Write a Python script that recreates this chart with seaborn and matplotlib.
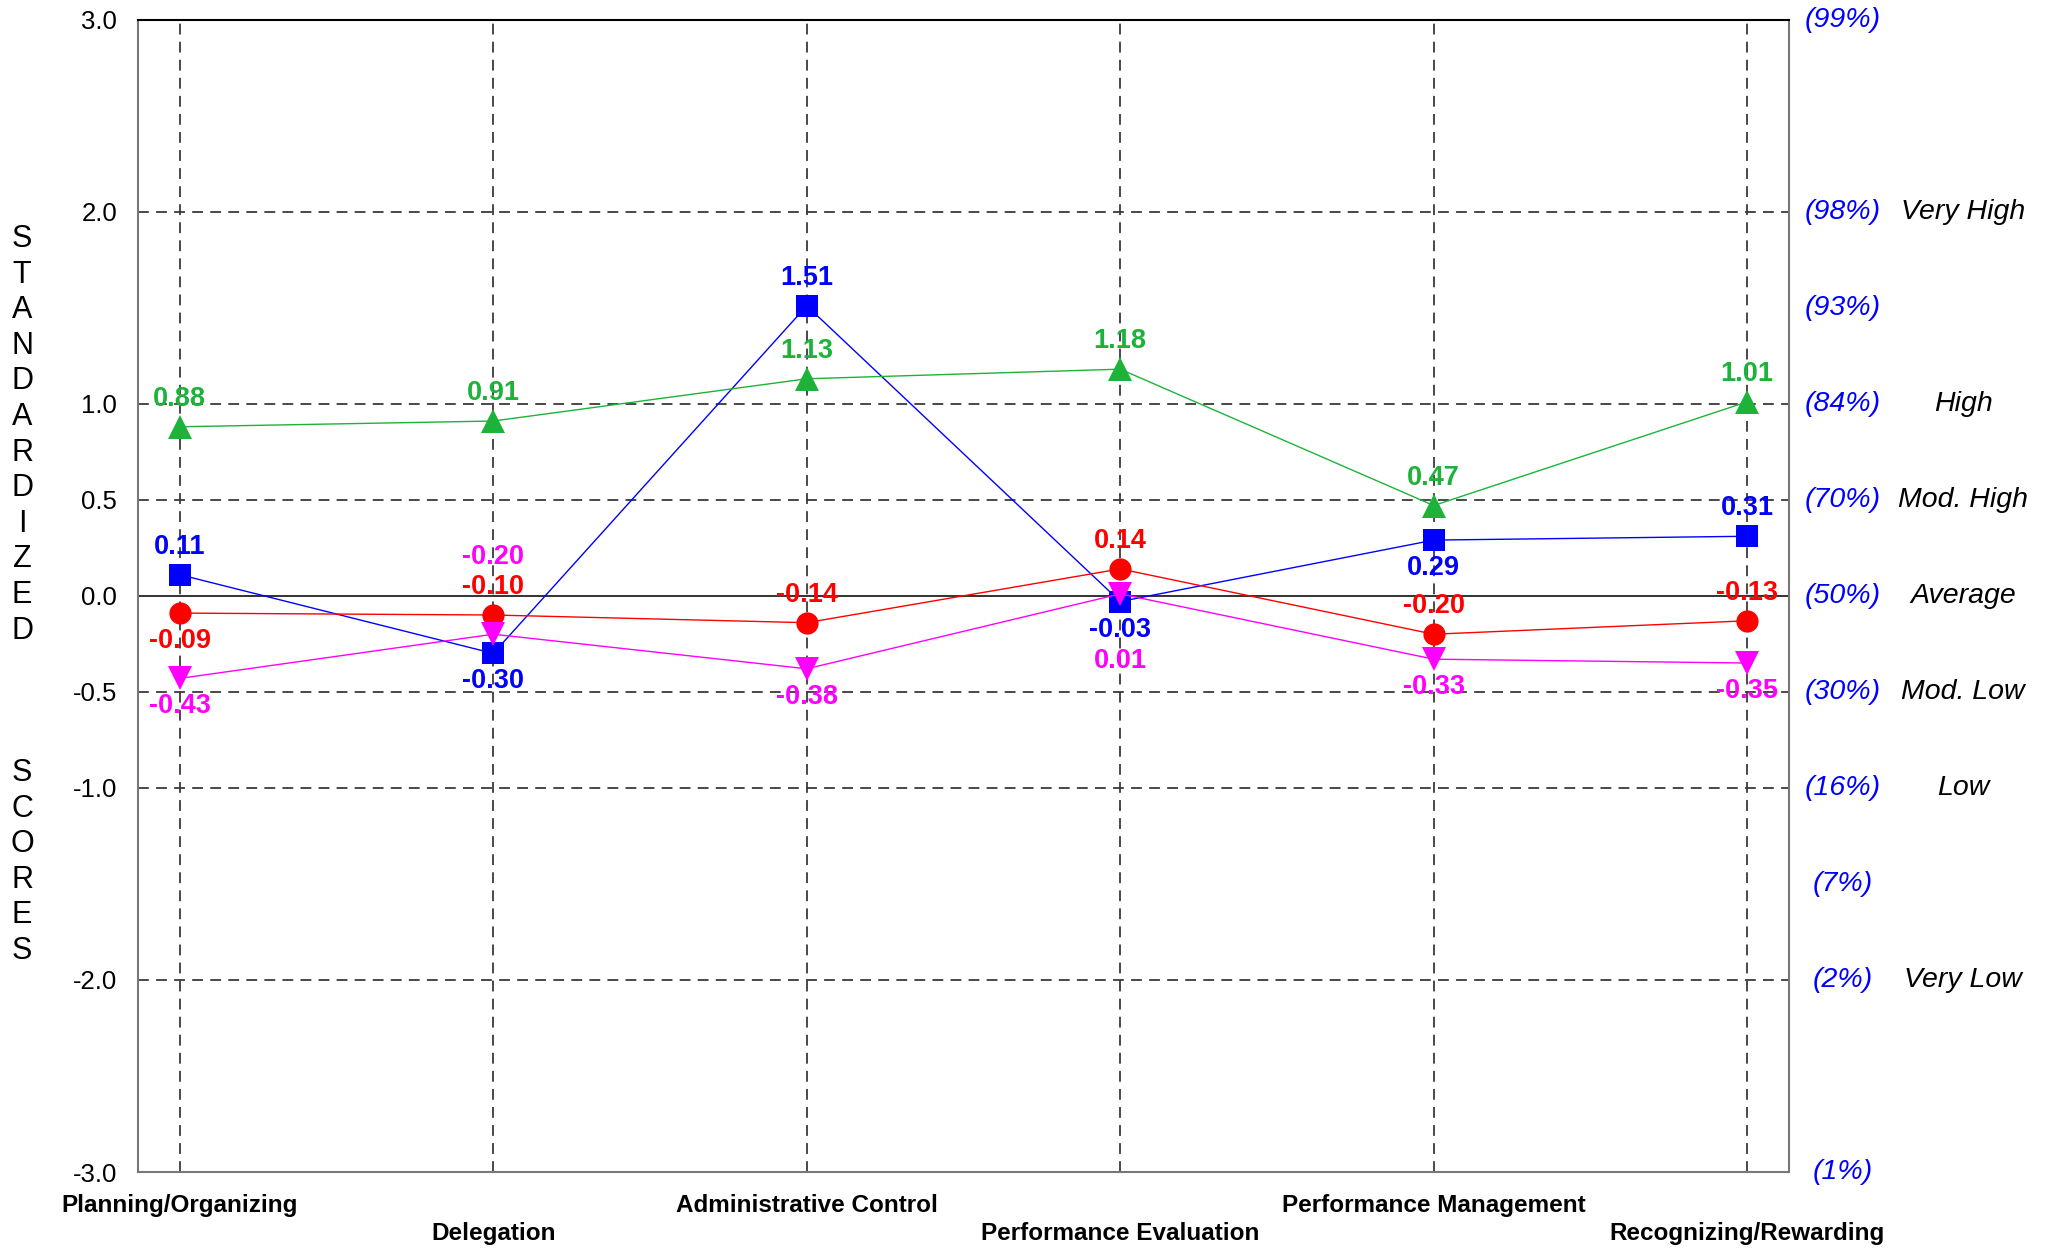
import matplotlib
matplotlib.use("Agg")
import matplotlib.pyplot as plt
import seaborn as sns
import pandas as pd

# Scale names along the x axis
categories = ["Planning/Organizing", "Delegation", "Administrative Control",
              "Performance Evaluation", "Performance Management", "Recognizing/Rewarding"]

# Standardized scores for each profile series
blue_scores = [0.11, -0.30, 1.51, -0.03, 0.29, 0.31]
red_scores = [-0.09, -0.10, -0.14, 0.14, -0.20, -0.13]
green_scores = [0.88, 0.91, 1.13, 1.18, 0.47, 1.01]
magenta_scores = [-0.43, -0.20, -0.38, 0.01, -0.33, -0.35]

# Y axis ticks and the percentile / band labels on the right
y_ticks = [3.0, 2.0, 1.0, 0.5, 0.0, -0.5, -1.0, -2.0, -3.0]
pct_values = [3.0, 2.0, 1.5, 1.0, 0.5, 0.0, -0.5, -1.0, -1.5, -2.0, -3.0]
pct_labels = ["(99%)", "(98%)", "(93%)", "(84%)", "(70%)", "(50%)",
              "(30%)", "(16%)", "(7%)", "(2%)", "(1%)"]
band_values = [2.0, 1.0, 0.5, 0.0, -0.5, -1.0, -2.0]
band_labels = ["Very High", "High", "Mod. High", "Average", "Mod. Low", "Low", "Very Low"]

sns.set_style("white")
plt.rcParams["font.family"] = ["Liberation Sans", "DejaVu Sans"]
plt.rcParams["text.color"] = "black"
plt.rcParams["xtick.color"] = "black"
plt.rcParams["ytick.color"] = "black"

series = {"blue": blue_scores, "red": red_scores,
          "green": green_scores, "magenta": magenta_scores}
colors = {"blue": "#0000FF", "red": "#FF0000", "green": "#1DB33A", "magenta": "#FF00FF"}
markers = {"blue": "s", "red": "o", "green": "^", "magenta": "v"}
sizes = {"blue": 15.5, "red": 16, "green": 17, "magenta": 17}
# vertical placement of value labels, in multiples of a label step (+ above, - below)
label_steps = {
    "blue": [1, -1, 1, -1, -1, 1],
    "red": [-1, 1, 1, 1, 1, 1],
    "green": [1, 1, 1, 1, 1, 1],
    "magenta": [-1, 2.75, -1, -2.4, -1, -1],
}

rows = []
for name, vals in series.items():
    for i, v in enumerate(vals):
        rows.append({"pos": i, "score": v, "series": name})
df = pd.DataFrame(rows)

fig = plt.figure(figsize=(20.47, 12.48), dpi=100)
ax = fig.add_axes([138 / 2047, 1 - 1172 / 1248, (1789 - 138) / 2047, (1172 - 19.6) / 1248])

# grid lines
for yv in [2.0, 1.0, 0.5, -0.5, -1.0, -2.0]:
    ax.axhline(yv, color="#3a3a3a", lw=1.3, ls=(0, (6, 4)), zorder=1)
ax.axhline(0.0, color="#222222", lw=1.3, zorder=1)
for i in range(len(categories)):
    ax.axvline(i, color="#3a3a3a", lw=1.3, ls=(0, (6, 4)), zorder=1)

for name in series:
    sub = df[df["series"] == name]
    sns.lineplot(data=sub, x="pos", y="score", color=colors[name], marker=markers[name],
                 markersize=sizes[name], markeredgewidth=0, lw=1.0, sort=False,
                 ax=ax, zorder=3)
    for i, v in enumerate(series[name]):
        ax.annotate(f"{v:.2f}", (i, v), xytext=(0, 28 * label_steps[name][i]),
                    textcoords="offset pixels", ha="center", va="center",
                    color=colors[name], fontsize=19.5, fontweight="bold", zorder=4)

ax.set_xlim(-32 / 240, 5 + 32 / 240)
ax.set_ylim(-3.0, 3.0)
ax.set_xlabel("")
ax.set_ylabel("")
ax.set_yticks(y_ticks)
ax.set_yticklabels([f"{t:.1f}" for t in y_ticks], fontsize=18.5)
ax.set_xticks(range(len(categories)))
ax.set_xticklabels(categories, fontsize=17.5, fontweight="bold")
ax.tick_params(axis="both", length=0)
ax.tick_params(axis="y", pad=15)
for i, tick in enumerate(ax.xaxis.get_major_ticks()):
    tick.set_pad(16 if i % 2 == 0 else 36)

for side in ["left", "bottom", "right"]:
    ax.spines[side].set_color("#777777")
    ax.spines[side].set_linewidth(1.5)
ax.spines["top"].set_color("#000000")
ax.spines["top"].set_linewidth(1.5)

ytrans = ax.get_yaxis_transform()
for v, t in zip(pct_values, pct_labels):
    ax.text(1.0327, v, t, transform=ytrans, ha="center", va="center",
            color="#0000FF", fontsize=20.5, style="italic", clip_on=False)
for v, t in zip(band_values, band_labels):
    ax.text(1.1054, v, t, transform=ytrans, ha="center", va="center",
            color="#000000", fontsize=20.5, style="italic", clip_on=False)

# stacked vertical axis title
for word, y0 in [("STANDARDIZED", 239), ("SCORES", 773)]:
    for k, ch in enumerate(word):
        fig.text(22 / 2047, 1 - (y0 + 35.6 * k) / 1248, ch, ha="center", va="center",
                 fontsize=22, color="#000000")

fig.savefig("out.png", dpi=100)
